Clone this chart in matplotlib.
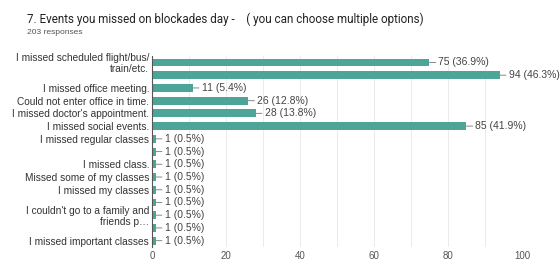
import matplotlib.pyplot as plt
import numpy as np

plt.rcParams['font.family'] = ['Liberation Sans', 'DejaVu Sans']

title = "7. Events you missed on blockades day -    ( you can choose multiple options)"
subtitle = "203 responses"
total = 203

# one entry per bar, top to bottom; empty label = hidden by the chart
labels = [
    "I missed scheduled flight/bus/\ntrain/etc.",
    "",
    "I missed office meeting.",
    "Could not enter office in time.",
    "I missed doctor's appointment.",
    "I missed social events.",
    "I missed regular classes",
    "",
    "I missed class.",
    "Missed some of my classes",
    "I missed my classes",
    "",
    "I couldn't go to a family and\nfriends p\u2026",
    "",
    "I missed important classes",
]
counts = [75, 94, 11, 26, 28, 85, 1, 1, 1, 1, 1, 1, 1, 1, 1]
x_ticks = [0, 20, 40, 60, 80, 100]

fig = plt.figure(figsize=(5.6, 2.61), dpi=100)
ax = fig.add_axes([0.2714, 0.0536, 0.932 - 0.2714, 0.785 - 0.0536])

pos = np.arange(len(counts))
ax.barh(pos, counts, height=0.62, color='#4ca596', zorder=3)

for i, v in enumerate(counts):
    pct = v / total * 100
    ax.annotate(f"{v} ({pct:.1f}%)", xy=(v, i), xytext=(6.5, 0),
                textcoords='offset points', ha='left', va='center',
                fontsize=7.5, color='#444444',
                arrowprops=dict(arrowstyle='-', color='#888888', lw=0.7,
                                shrinkA=0, shrinkB=0))

ax.set_xlim(0, 100)
ax.set_ylim(len(counts) - 0.5, -0.5)
ax.set_xticks(x_ticks)
ax.set_xticks(np.arange(0, 101, 10), minor=True)
ax.set_yticks(pos)
ax.set_yticklabels(labels, fontsize=7.3, color='#333333', linespacing=1.05)
ax.tick_params(axis='both', which='both', length=0, pad=2)
ax.tick_params(axis='x', labelsize=7, labelcolor='#555555', pad=3)
ax.grid(axis='x', which='both', color='#ebebeb', lw=0.7, zorder=0)

for s in ['top', 'right', 'bottom']:
    ax.spines[s].set_visible(False)
ax.spines['left'].set_color('#555555')
ax.spines['left'].set_linewidth(0.8)
ax.spines['left'].set_zorder(4)

fig.text(27 / 560, 1 - 19 / 261, title, fontsize=8.4, color='#222222',
         ha='left', va='center', family=['Roboto', 'DejaVu Sans'])
fig.text(27 / 560, 1 - 33 / 261, subtitle, fontsize=6.1, color='#555555',
         ha='left', va='center')

fig.savefig('out.png', dpi=100)
